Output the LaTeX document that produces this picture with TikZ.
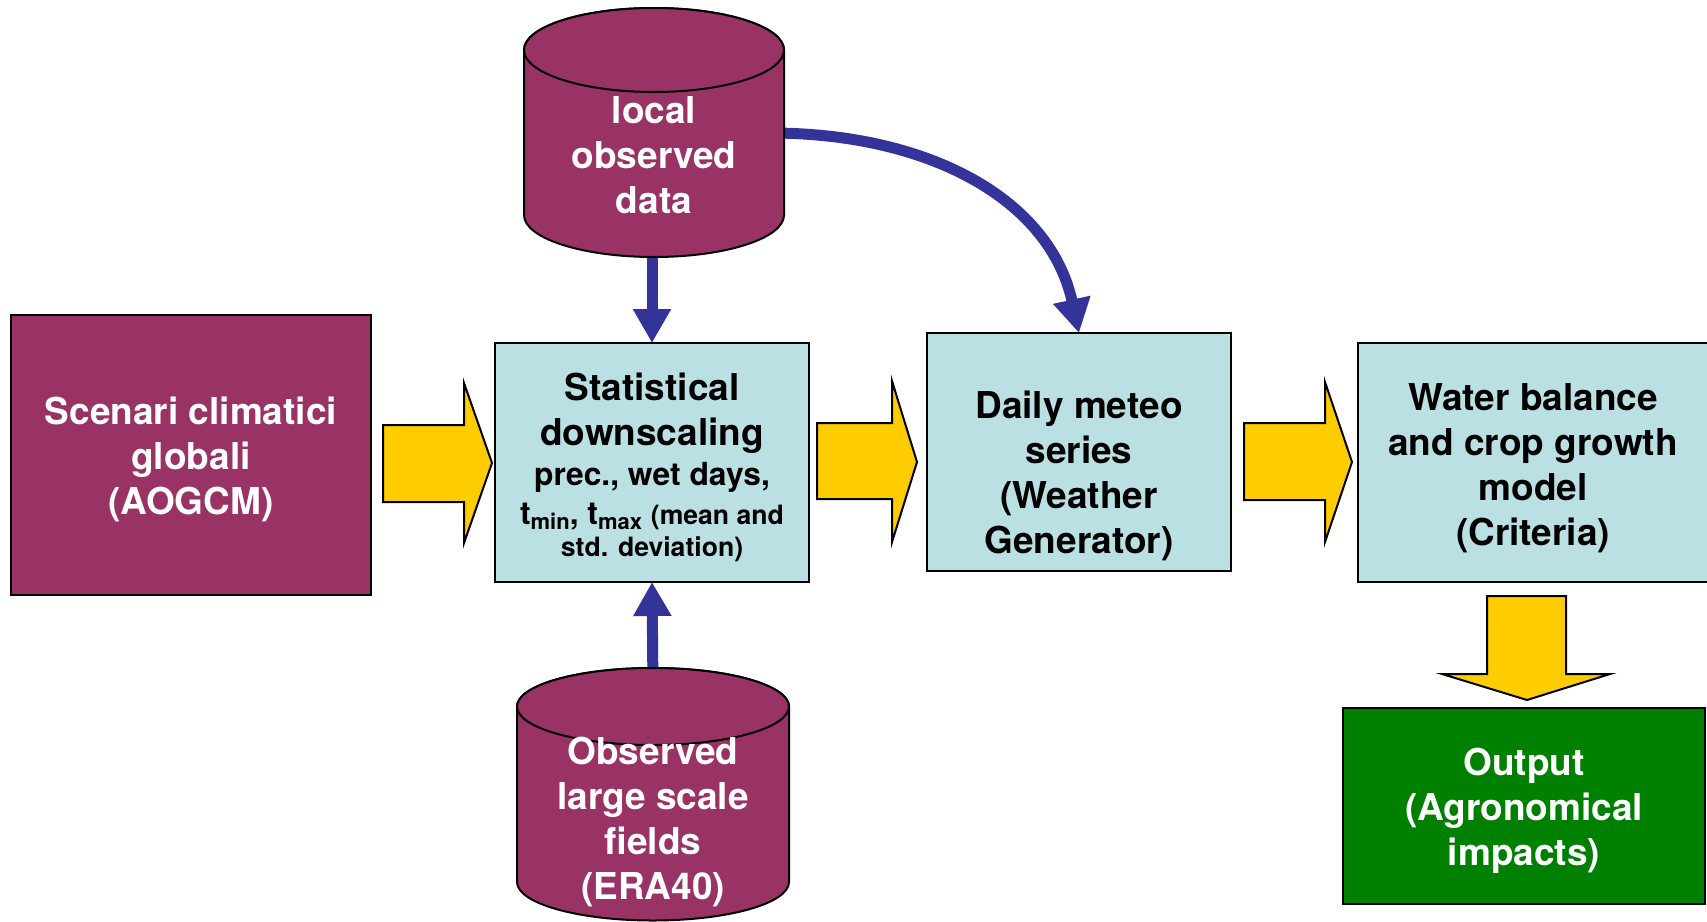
\documentclass[tikz,border=0pt]{standalone}
\usepackage{fontspec}
\setmainfont{TeX Gyre Heros}
\usetikzlibrary{arrows.meta}
\definecolor{plum}{HTML}{993366}
\definecolor{paleblue}{HTML}{BBE0E3}
\definecolor{gold}{HTML}{FFCC00}
\definecolor{navyarrow}{HTML}{333399}
\definecolor{leaf}{HTML}{008000}
% centred multi-line text whose baseline is that of the first line
\newcommand{\stack}[1]{\begin{tabular}[t]{@{}c@{}}#1\end{tabular}}
\newcommand{\lowsub}[1]{\raisebox{-2.5pt}{\fontsize{11}{11}\selectfont #1}}
\begin{document}
\begin{tikzpicture}[x=0.5pt,y=-0.5pt,
  box/.style={draw=black,line width=1pt,inner sep=0pt,outer sep=0pt},
  plumbox/.style={box,fill=plum},
  bluebox/.style={box,fill=paleblue},
  greenbox/.style={box,fill=leaf},
  drum/.style={fill=plum,draw=black,line width=1pt},
  label/.style={inner sep=0pt,anchor=base,font=\bfseries\fontsize{18.5}{22.5}\selectfont},
  small/.style={inner sep=0pt,anchor=base,font=\bfseries\fontsize{13.3}{16}\selectfont},
  blockarrow/.style={fill=gold,draw=black,line width=1pt,line join=miter},
  flow/.style={draw=navyarrow,line width=5.5pt,-{Triangle[width=18pt,length=17pt]}},
]
\useasboundingbox (0,0) rectangle (1707,921);

% process boxes
\node[plumbox,minimum width=180pt,minimum height=140pt] (scen) at (191,455) {};
\node[bluebox,minimum width=157pt,minimum height=119.5pt] (stat) at (652,462.5) {};
\node[bluebox,minimum width=152pt,minimum height=119pt] (daily) at (1079,452) {};
\node[bluebox,minimum width=175.5pt,minimum height=119.5pt] (water) at (1533.5,462.5) {};
\node[greenbox,minimum width=181pt,minimum height=98pt] (out) at (1524,806) {};

% connector end points on the two data stores
\coordinate (local-south) at (652,240);
\coordinate (local-east) at (770,133);
\coordinate (era-north) at (653,690);

% data flows
\draw[flow] (local-south) -- (stat.north);
\draw[flow] (era-north) -- (stat.south);
\draw[flow] (local-east) .. controls (930,133) and (1050,200) .. (daily.north);

% data stores
\filldraw[drum] (524,50) -- (524,215)
  arc[start angle=180,end angle=360,x radius=65pt,y radius=21pt]
  -- (784,50)
  arc[start angle=0,end angle=180,x radius=65pt,y radius=21pt] -- cycle;
\draw[drum] (654,50) ellipse [x radius=65pt,y radius=21pt];

\filldraw[drum] (517,706.5) -- (517,882)
  arc[start angle=180,end angle=360,x radius=68pt,y radius=19.25pt]
  -- (789,706.5)
  arc[start angle=0,end angle=180,x radius=68pt,y radius=19.25pt] -- cycle;
\draw[drum] (653,706.5) ellipse [x radius=68pt,y radius=19.25pt];

% process chain arrows
\filldraw[blockarrow] (383,425) -- (464,425) -- (464,383) -- (492,463)
  -- (464,543) -- (464,502) -- (383,502) -- cycle;
\filldraw[blockarrow] (817,423) -- (892,423) -- (892,381) -- (917,462)
  -- (892,542) -- (892,499) -- (817,499) -- cycle;
\filldraw[blockarrow] (1244,423) -- (1325,423) -- (1325,382) -- (1352,462)
  -- (1325,542) -- (1325,500) -- (1244,500) -- cycle;
\filldraw[blockarrow] (1487,596) -- (1566,596) -- (1566,674) -- (1610,674)
  -- (1527,700) -- (1442,674) -- (1487,674) -- cycle;

% texts
\node[label,text=white] (local) at (654,123) {\stack{local\\observed\\data}};
\node[label,text=white] (era) at (653,764) {\stack{Observed\\large scale\\fields\\(ERA40)}};
\node[label,text=white] (scen-text) at (191,424) {\stack{Scenari climatici\\globali\\(AOGCM)}};
\node[label] (daily-text) at (1079,418) {\stack{Daily meteo\\series\\(Weather\\Generator)}};
\node[label] (water-text) at (1533,410) {\stack{Water balance\\and crop growth\\model\\(Criteria)}};
\node[label,text=white] (out-text) at (1524,775) {\stack{Output\\(Agronomical\\impacts)}};

\node[label] (stat-1) at (652,400) {Statistical};
\node[label] (stat-2) at (652,445) {downscaling};
\node[label,font=\bfseries\fontsize{15.9}{19}\selectfont] (stat-3) at (652,485) {prec., wet days,};
\node[label,font=\bfseries\fontsize{15.9}{19}\selectfont] (stat-4) at (652,524)
  {t\lowsub{min}, t\lowsub{max} {\fontsize{13.3}{16}\selectfont(mean and}};
\node[small] (stat-5) at (652,556) {std. deviation)};
\end{tikzpicture}
\end{document}
